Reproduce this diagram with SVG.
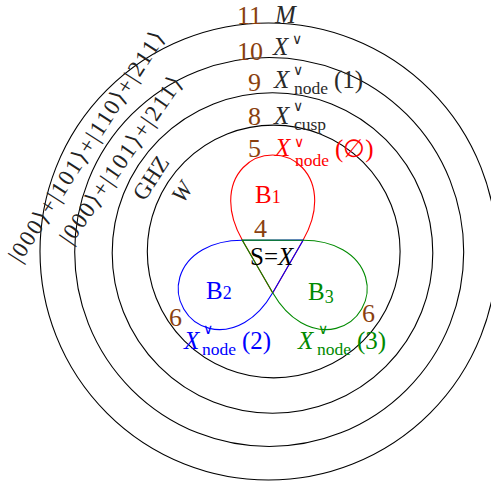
<svg xmlns="http://www.w3.org/2000/svg" width="491" height="485" viewBox="0 0 491 485">
<style>
.circ{fill:none;stroke:#000;stroke-width:1.1}
.loop{fill:none;stroke-width:1.1}
text{font-family:"Liberation Serif","DejaVu Serif",serif;fill:#2a2a2a}
.num{font-size:26px;fill:#8a3f0f}
.m{font-size:25px}
.it{font-style:italic}
.sub{font-size:17.5px;font-style:normal}
.sup{font-size:14px;font-style:normal;font-family:"DejaVu Serif","Liberation Serif",serif}
.up{font-style:normal}
.ket{font-size:23px;fill:#222}
.bl{font-size:25px}
.od{font-size:18px}
.r{fill:#ff0000}
.b{fill:#0000ff}
.g{fill:#008a00}
.k{fill:#000}
</style>
<defs>
<path id="petal" d="M272.7,293 L242.4,240.2 C236.4,229.8 230.7,215 230.7,201 C230.7,173 250,155 272.7,155 C295.4,155 314.7,173 314.7,201 C314.7,215 309,229.8 303,240.2 Z"/>
</defs>
<g id="levels">
<circle class="circ" cx="273.7" cy="251.5" r="126.4"/>
<circle class="circ" cx="272.5" cy="253" r="160.3"/>
<circle class="circ" cx="269.2" cy="252" r="194.5"/>
<circle class="circ" cx="268.5" cy="251.5" r="228.5"/>
</g>
<g id="connectors">
<use href="#petal" class="loop" stroke="#ff0000"/>
<use href="#petal" class="loop" stroke="#0000ff" transform="rotate(-120 272.7 257.7)"/>
<use href="#petal" class="loop" stroke="#008a00" transform="rotate(120 272.7 257.7)"/>
</g>
<g id="n11"><text class="num" x="237" y="24">11</text><text class="m it" x="275" y="23">M</text></g>
<g id="n10"><text class="num" x="237" y="60">10</text><text class="m it" x="273" y="55">X<tspan class="sup" x="292" y="44">∨</tspan></text></g>
<g id="n9"><text class="num" x="248" y="91">9</text><text class="m it" x="274" y="88">X<tspan class="sup" x="293" y="75">∨</tspan><tspan class="sub" x="294" y="94">node</tspan><tspan class="up" x="334" y="88">(1)</tspan></text></g>
<g id="n8"><text class="num" x="248" y="125">8</text><text class="m it" x="274" y="124">X<tspan class="sup" x="293" y="111">∨</tspan><tspan class="sub" x="294" y="130">cusp</tspan></text></g>
<g id="n5"><text class="num" x="248" y="157">5</text><text class="m it r" x="275" y="156">X<tspan class="sup" x="294" y="147">∨</tspan><tspan class="sub" x="295" y="166">node</tspan><tspan class="up" x="335" y="157">(∅)</tspan></text></g>
<g id="nB1"><text class="bl r" x="255" y="203">B<tspan class="od">1</tspan></text></g>
<g id="nB2"><text class="bl b" x="206" y="299">B<tspan class="od">2</tspan></text></g>
<g id="nB3"><text class="bl g" x="308" y="300">B<tspan class="od" dy="3">3</tspan></text></g>
<g id="n4"><text class="num" x="254" y="237">4</text></g>
<g id="nS"><text class="bl k" x="250" y="265">S=<tspan class="it">X</tspan></text></g>
<g id="n6a"><text class="num" x="169" y="326">6</text><text class="m it b" x="184" y="349">X<tspan class="sup" x="203" y="334">∨</tspan><tspan class="sub" x="202" y="355">node</tspan><tspan class="up" x="242" y="349">(2)</tspan></text></g>
<g id="n6b"><text class="num" x="362" y="322">6</text><text class="m it g" x="298" y="349">X<tspan class="sup" x="318" y="334">∨</tspan><tspan class="sub" x="317" y="355">node</tspan><tspan class="up" x="357" y="349">(3)</tspan></text></g>
<g id="kets">
<text class="ket" text-anchor="middle" textLength="269" lengthAdjust="spacing" transform="translate(92.8 150.6) rotate(-57.3)">|000⟩+|101⟩+|110⟩+|211⟩</text>
<text class="ket" text-anchor="middle" textLength="198" lengthAdjust="spacing" transform="translate(127.2 164.3) rotate(-55.4)">|000⟩+|101⟩+|211⟩</text>
<text class="ket" text-anchor="middle" transform="translate(157.4 182.1) rotate(-57)">GHZ</text>
<text class="ket it" text-anchor="middle" transform="translate(188.4 196.1) rotate(-57)">W</text>
</g>
</svg>
